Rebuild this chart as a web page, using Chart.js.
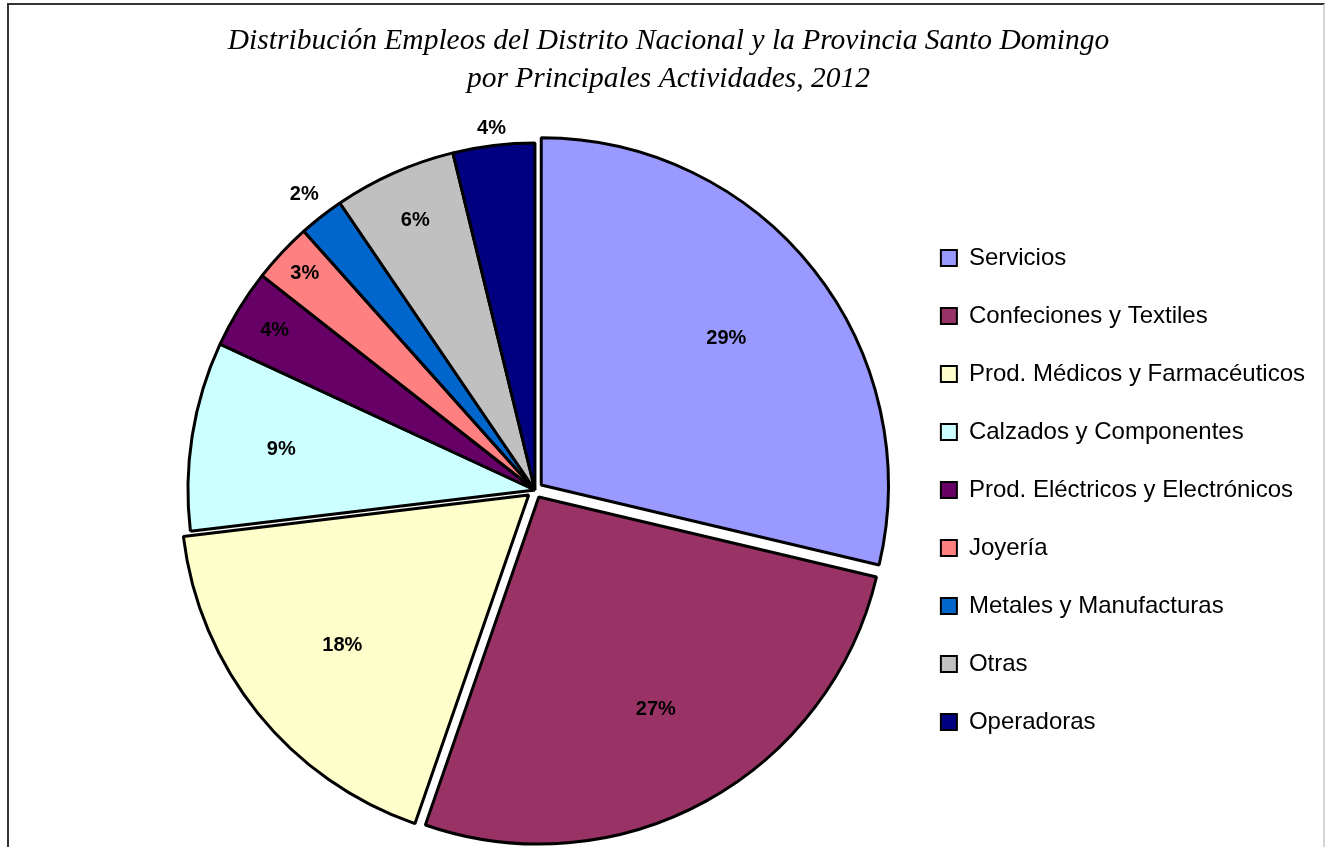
<!DOCTYPE html>
<html>
<head>
<meta charset="utf-8">
<script src="https://cdn.jsdelivr.net/npm/chart.js@4/dist/chart.umd.min.js"></script>
<style>
  html, body { margin: 0; padding: 0; background: #fff; overflow: hidden; }
  #wrap { position: relative; width: 1325px; height: 900px; }
  #frame {
    position: absolute; left: 7px; top: 3px; width: 1314px; height: 900px;
    border-left: 2px solid #333; border-top: 2px solid #333; border-right: 2px solid #d4d4d4;
    pointer-events: none;
  }
</style>
</head>
<body>
<div id="wrap">
  <canvas id="pieChart"></canvas>
  <div id="frame"></div>
</div>
<script>
const titleLines = [
  'Distribución Empleos del Distrito Nacional y la Provincia Santo Domingo',
  'por Principales Actividades, 2012'
];
const categories = [
  'Servicios',
  'Confeciones y Textiles',
  'Prod. Médicos y Farmacéuticos',
  'Calzados y Componentes',
  'Prod. Eléctricos y Electrónicos',
  'Joyería',
  'Metales y Manufacturas',
  'Otras',
  'Operadoras'
];
// share of jobs (%)
const shares = [28.7, 26.6, 17.8, 8.8, 3.7, 2.8, 2.1, 5.7, 3.8];

const sliceColors = ['#9999FF', '#993366', '#FFFFCC', '#CCFFFF', '#660066', '#FF8080', '#0066CC', '#C0C0C0', '#000080'];
const sliceOffsets = [32, 32, 32, 0, 0, 0, 0, 0, 0];
// where each percentage sits, as a fraction of the radius (Excel "best fit")
const labelRadius = [0.68, 0.70, 0.69, 0.74, 0.88, 0.91, 1.08, 0.85, 1.05];

// title drawn centred on the whole canvas, like the original sheet
const titlePlugin = {
  id: 'sheetTitle',
  afterDraw(chart) {
    const ctx = chart.ctx;
    ctx.save();
    ctx.font = 'italic 29.5px "Liberation Serif", "Times New Roman", serif';
    ctx.fillStyle = '#000';
    ctx.textAlign = 'center';
    ctx.textBaseline = 'alphabetic';
    titleLines.forEach((line, i) => {
      ctx.fillText(line, chart.width / 2 + 6, 49 + i * 38);
    });
    ctx.restore();
  }
};

const percentLabels = {
  id: 'percentLabels',
  afterDatasetsDraw(chart) {
    const ctx = chart.ctx;
    const meta = chart.getDatasetMeta(0);
    const values = chart.data.datasets[0].data;
    const total = values.reduce((a, b) => a + b, 0);
    ctx.save();
    ctx.font = 'bold 20px "Liberation Sans", Arial, sans-serif';
    ctx.fillStyle = '#000';
    ctx.textAlign = 'center';
    ctx.textBaseline = 'middle';
    meta.data.forEach((arc, i) => {
      const p = arc.getProps(['x', 'y', 'startAngle', 'endAngle', 'outerRadius'], true);
      const mid = (p.startAngle + p.endAngle) / 2;
      const shift = sliceOffsets[i] / 4;
      const r = p.outerRadius * labelRadius[i] + shift;
      const text = Math.round(values[i] / total * 100) + '%';
      ctx.fillText(text, p.x + Math.cos(mid) * r, p.y + Math.sin(mid) * r);
    });
    ctx.restore();
  }
};

const ctx = document.getElementById('pieChart').getContext('2d');
const chart = new Chart(ctx, {
  type: 'pie',
  data: {
    labels: categories,
    datasets: [{
      data: shares,
      backgroundColor: sliceColors,
      borderColor: '#000',
      borderWidth: 3,
      offset: sliceOffsets,
      hoverOffset: 0
    }]
  },
  options: {
    responsive: true,
    maintainAspectRatio: false,
    animation: false,
    radius: 347,
    layout: { padding: { top: 109, left: 163, right: 10, bottom: 29 } },
    plugins: {
      title: { display: false },
      tooltip: { enabled: false },
      legend: {
        position: 'right',
        labels: {
          color: '#000',
          boxWidth: 16,
          boxHeight: 16,
          padding: 34,
          font: { family: '"Liberation Sans", Arial, sans-serif', size: 24 },
          generateLabels(c) {
            return Chart.overrides.pie.plugins.legend.labels.generateLabels(c)
              .map(item => Object.assign(item, { lineWidth: 2 }));
          }
        }
      }
    }
  },
  plugins: [percentLabels, titlePlugin]
});
</script>
</body>
</html>
